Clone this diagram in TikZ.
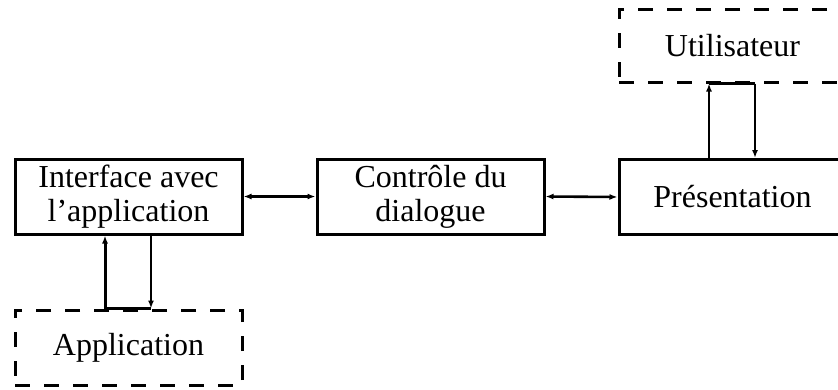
\documentclass[tikz,border=0pt]{standalone}
\usepackage{fontspec}
\setmainfont{Liberation Serif}
\usetikzlibrary{arrows.meta}
\begin{document}
\begin{tikzpicture}[x=1pt,y=-1pt,
  box/.style={draw,line width=3pt,minimum width=227pt,minimum height=75pt,inner sep=0pt,align=center,
    font=\fontsize{32}{34}\selectfont},
  dbox/.style={box,dash pattern=on 15pt off 14pt},
  arr/.style={line width=2.2pt,-{Latex[length=8pt,width=6pt]}},
  darr/.style={line width=2.6pt,{Latex[length=8pt,width=6pt]}-{Latex[length=8pt,width=6pt]}}]
\useasboundingbox (0,0) rectangle (838,389);
\clip (0,0) rectangle (838,389);
\node[box] (iface) at (128.5,196.5) {Interface avec\\l'application};
\node[box] (ctrl) at (430.5,196.5) {Contrôle du\\dialogue};
\node[box] (pres) at (732.5,197) {Présentation};
\node[dbox,minimum height=73pt] (user) at (732.5,45.5) {Utilisateur};
\node[dbox] (app) at (128.5,347.5) {Application};
\draw[darr] (iface.east) -- (ctrl.west);
\draw[darr] (ctrl.east) -- (pres.west);
\coordinate (a1) at ([xshift=-23.5pt]app.north);
\coordinate (a2) at ([xshift=22.5pt]app.north);
\draw[line width=3pt] (a1) -- (a2);
\draw[arr,line width=3pt] (a1) -- (a1 |- iface.south);
\draw[arr] (a2 |- iface.south) -- (a2);
\coordinate (u1) at ([xshift=-23.5pt]user.south);
\coordinate (u2) at ([xshift=22.5pt]user.south);
\draw[line width=3pt] (u1) -- (u2);
\draw[arr] (u1 |- pres.north) -- (u1);
\draw[arr] (u2) -- (u2 |- pres.north);
\end{tikzpicture}
\end{document}
